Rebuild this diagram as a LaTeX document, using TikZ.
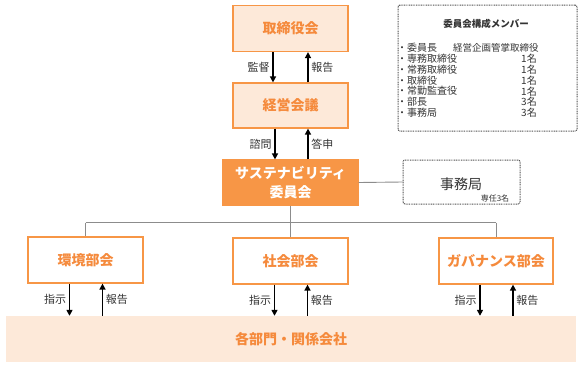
\documentclass[tikz,border=0pt]{standalone}
\usepackage{fontspec}
\setmainfont{Noto Sans CJK JP}
\usetikzlibrary{arrows.meta}
\definecolor{orgline}{HTML}{F79646}
\definecolor{orgfill}{HTML}{FDE9D9}
\definecolor{orgtext}{HTML}{F58A3C}
\definecolor{treegray}{HTML}{8C8C8C}
\definecolor{inkgray}{HTML}{333333}

\begin{document}
\begin{tikzpicture}[x=1pt,y=-1pt]
            \useasboundingbox (0,0) rectangle (581,367);
            {
                \tikzset{orgbox/.style = {draw=orgline, line width=1.2pt, fill=orgfill, text=orgtext,
                        minimum width=115pt, minimum height=46pt, inner sep=0pt,
                        font=\bfseries\fontsize{14}{19}\selectfont}}
                \tikzset{subbox/.style = {orgbox, fill=white}}
                \tikzset{dotbox/.style = {draw=inkgray!85, dash pattern=on 0.9pt off 0.8pt, line width=1pt, rounded corners=2pt, inner sep=0pt}}
                \tikzset{item/.style = {anchor=west, inner sep=0pt, text=inkgray, font=\fontsize{10}{11}\selectfont}}

                \node[orgbox] (board) at (290.5, 28.5) {取締役会};
                \node[orgbox, minimum height=45pt] (mgmt) at (290.5, 105.5) {経営会議};
                \node[orgbox, fill=orgline, text=white, minimum width=135pt, minimum height=45pt, align=center] (suscom) at (290.5, 182.5) {サステナビリティ\\委員会};

                \node[dotbox, minimum width=117pt, minimum height=44pt] (office) at (461.5, 182) {};
                \node[inner sep=0pt, text=inkgray, font=\fontsize{14}{16}\selectfont] (officename) at (461, 184) {事務局};
                \node[inner sep=0pt, text=inkgray, font=\fontsize{8}{9}\selectfont] (officestaff) at (495, 198) {専任3名};

                \node[subbox] (env) at (85.5, 260) {環境部会};
                \node[subbox] (soc) at (290.5, 261) {社会部会};
                \node[subbox, minimum width=114pt] (gov) at (496, 261) {ガバナンス部会};

                \node[fill=orgfill, text=orgtext, minimum width=570pt, minimum height=46pt, inner sep=0pt,
                      font=\bfseries\fontsize{14}{16}\selectfont] (group) at (291, 339) {各部門・関係会社};

                % member list box
                \node[dotbox, minimum width=179pt, minimum height=126pt] (members) at (487.5, 68) {};
                \node[inner sep=0pt, text=inkgray, font=\bfseries\fontsize{9.5}{11}\selectfont] (memtitle) at (486, 24) {委員会構成メンバー};
                \node[item] (chair) at (397, 48) {・委員長};
                \node[item, font=\fontsize{9.5}{11}\selectfont] (chairrole) at (453, 48) {経営企画管掌取締役};
                \foreach \role/\num [count=\i] in {専務取締役/1名, 常務取締役/1名, 取締役/1名, 常勤監査役/1名, 部長/3名, 事務局/3名} {
                    \node[item] (role\i) at (397, 48+10.8*\i) {・\role};
                    \node[item] (num\i) at (521, 48+10.8*\i) {\num};
                }
            }

            \tikzset{arr/.style = {line width=1.6pt, -{Triangle[length=6pt, width=6pt]}}}
            \tikzset{lbl/.style = {text=inkgray, inner sep=2.5pt, font=\fontsize{11}{12}\selectfont}}
            \tikzset{tree/.style = {draw=treegray, line width=0.9pt}}

            % vertical reporting lines with labels
            \draw[arr] ([xshift=-17.5pt]board.south) -- node[lbl, left, midway] {監督} ([xshift=-17.5pt]board.south |- mgmt.north);
            \draw[arr] ([xshift=17.5pt]mgmt.north) -- node[lbl, right, midway] {報告} ([xshift=17.5pt]mgmt.north |- board.south);
            \draw[arr] ([xshift=-15.5pt]mgmt.south) -- node[lbl, left, midway] {諮問} ([xshift=-15.5pt]mgmt.south |- suscom.north);
            \draw[arr] ([xshift=17.5pt]suscom.north) -- node[lbl, right, midway] {答申} ([xshift=17.5pt]suscom.north |- mgmt.south);

            \foreach \n in {env, soc, gov} {
                \draw[arr] ([xshift=-16pt]\n.south) -- node[lbl, left, midway] {指示} ([xshift=-16pt]\n.south |- group.north);
                \draw[arr] ([xshift=17pt]\n.south |- group.north) -- node[lbl, right, midway] {報告} ([xshift=17pt]\n.south);
            }

            % tree to the committees
            \draw[tree] (suscom.east) -- (office.west);
            \draw[tree] (suscom.south) -- ++(0, 17) coordinate (split);
            \draw[tree] (split -| env.north) -- (split -| gov.north);
            \foreach \n in {env, soc, gov} {
                \draw[tree] (split -| \n.north) -- (\n.north);
            }

        \end{tikzpicture}
\end{document}
